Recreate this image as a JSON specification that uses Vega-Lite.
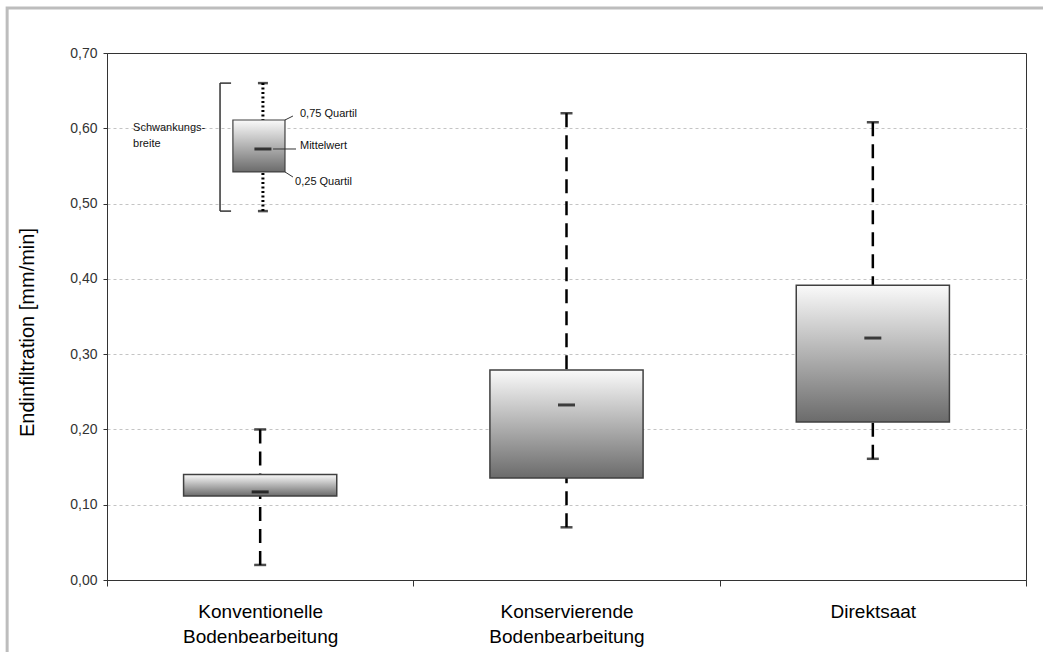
{
  "$schema": "https://vega.github.io/schema/vega-lite/v6.json",
  "width": 919,
  "height": 527,
  "autosize": {"type": "none"},
  "padding": {"left": 107, "top": 53, "right": 17, "bottom": 72},
  "background": "white",
  "config": {
    "font": "Liberation Sans",
    "view": {"stroke": "#333333", "strokeWidth": 1}
  },
  "datasets": {
    "boxes": [
      {"cat": "Konventionelle Bodenbearbeitung", "min": 0.02, "q1": 0.1116, "mean": 0.117, "q3": 0.14, "max": 0.2},
      {"cat": "Konservierende Bodenbearbeitung", "min": 0.07, "q1": 0.1355, "mean": 0.2325, "q3": 0.279, "max": 0.62},
      {"cat": "Direktsaat", "min": 0.161, "q1": 0.21, "mean": 0.3214, "q3": 0.3915, "max": 0.608}
    ],
    "legendbox": [
      {"x": 0.509, "xl": 0.411, "xr": 0.581, "min": 0.49, "q1": 0.542, "mean": 0.5725, "q3": 0.611, "max": 0.66}
    ],
    "bracket": [
      {"x": 0.369, "x2": 0.369, "y": 0.49, "y2": 0.66},
      {"x": 0.369, "x2": 0.405, "y": 0.66, "y2": 0.66},
      {"x": 0.369, "x2": 0.405, "y": 0.49, "y2": 0.49}
    ],
    "connectors": [
      {"x": 0.581, "x2": 0.607, "y": 0.611, "y2": 0.6163},
      {"x": 0.542, "x2": 0.617, "y": 0.5725, "y2": 0.5725},
      {"x": 0.581, "x2": 0.607, "y": 0.542, "y2": 0.5353}
    ],
    "labels": [
      {"x": 0.63, "y": 0.6193, "text": "0,75 Quartil"},
      {"x": 0.63, "y": 0.5765, "text": "Mittelwert"},
      {"x": 0.614, "y": 0.5287, "text": "0,25 Quartil"},
      {"x": 0.085, "y": 0.6004, "text": "Schwankungs-"},
      {"x": 0.085, "y": 0.5791, "text": "breite"}
    ],
    "frame": [
      {"x": -0.326, "x2": 3.3, "y": 0.7598, "y2": -0.2}
    ]
  },
  "layer": [
    {
      "data": {"name": "boxes"},
      "encoding": {
        "x": {
          "field": "cat",
          "type": "nominal",
          "sort": null,
          "scale": {"paddingInner": 0, "paddingOuter": 0},
          "axis": {
            "title": null,
            "labelAngle": 0,
            "labelFontSize": 19,
            "labelColor": "#000000",
            "labelLineHeight": 25,
            "labelPadding": 16,
            "labelExpr": "split(datum.label, ' ')",
            "tickBand": "extent",
            "tickSize": 6,
            "tickColor": "#333333",
            "domainColor": "#333333",
            "grid": false
          }
        }
      },
      "layer": [
        {
          "mark": {"type": "rule", "stroke": "#000000", "strokeWidth": 2.5, "strokeDash": [14, 8]},
          "encoding": {
            "y": {
              "field": "max",
              "type": "quantitative",
              "scale": {"domain": [0, 0.7], "nice": false, "zero": false},
              "axis": {
                "title": "Endinfiltration [mm/min]",
                "titleFontSize": 20,
                "titleFontWeight": "normal",
                "titleColor": "#000000",
                "titlePadding": 32,
                "titleY": 279,
                "values": [0, 0.1, 0.2, 0.3, 0.4, 0.5, 0.6, 0.7],
                "labelExpr": "replace(format(datum.value, '.2f'), '.', ',')",
                "labelFontSize": 14,
                "labelColor": "#333333",
                "labelPadding": 6,
                "tickSize": 4,
                "tickColor": "#333333",
                "domainColor": "#333333",
                "grid": true,
                "gridColor": "#c4c4c4",
                "gridOpacity": {"condition": {"test": "datum.value >= 0.69 || datum.value <= 0.001", "value": 0}, "value": 1},
                "gridDash": [3, 3],
                "gridWidth": 1
              }
            },
            "y2": {"field": "q3"}
          }
        },
        {
          "mark": {"type": "rule", "stroke": "#000000", "strokeWidth": 2.5, "strokeDash": [14, 8]},
          "encoding": {
            "y": {"field": "min", "type": "quantitative"},
            "y2": {"field": "q1"}
          }
        },
        {
          "mark": {"type": "tick", "orient": "horizontal", "color": "#000000", "size": 12, "thickness": 2.5},
          "encoding": {"y": {"field": "max", "type": "quantitative"}}
        },
        {
          "mark": {"type": "tick", "orient": "horizontal", "color": "#000000", "size": 12, "thickness": 2.5},
          "encoding": {"y": {"field": "min", "type": "quantitative"}}
        },
        {
          "mark": {
            "type": "bar",
            "width": {"band": 0.5},
            "stroke": "#404040",
            "strokeWidth": 1.5,
            "fill": {
              "gradient": "linear",
              "x1": 0, "y1": 0, "x2": 0, "y2": 1,
              "stops": [
                {"offset": 0, "color": "#fafafa"},
                {"offset": 1, "color": "#6b6b6b"}
              ]
            }
          },
          "encoding": {
            "y": {"field": "q1", "type": "quantitative"},
            "y2": {"field": "q3"}
          }
        },
        {
          "mark": {"type": "tick", "orient": "horizontal", "color": "#000000", "size": 17, "thickness": 3},
          "encoding": {"y": {"field": "mean", "type": "quantitative"}}
        }
      ]
    },
    {
      "layer": [
        {
          "data": {"name": "frame"},
          "mark": {"type": "rect", "fillOpacity": 0, "stroke": "#bdbdbd", "strokeWidth": 3, "clip": false},
          "encoding": {
            "x": {"field": "x", "type": "quantitative", "scale": {"domain": [0, 3], "nice": false, "zero": false}, "axis": null},
            "x2": {"field": "x2"},
            "y": {"field": "y", "type": "quantitative"},
            "y2": {"field": "y2"}
          }
        },
        {
          "data": {"name": "legendbox"},
          "mark": {"type": "rule", "stroke": "#000000", "strokeWidth": 3, "strokeDash": [2, 2.5]},
          "encoding": {
            "x": {"field": "x", "type": "quantitative", "axis": null},
            "y": {"field": "min", "type": "quantitative"},
            "y2": {"field": "max"}
          }
        },
        {
          "data": {"name": "legendbox"},
          "mark": {"type": "tick", "orient": "horizontal", "color": "#000000", "size": 10, "thickness": 2.5},
          "encoding": {
            "x": {"field": "x", "type": "quantitative", "axis": null},
            "y": {"field": "max", "type": "quantitative"}
          }
        },
        {
          "data": {"name": "legendbox"},
          "mark": {"type": "tick", "orient": "horizontal", "color": "#000000", "size": 10, "thickness": 2.5},
          "encoding": {
            "x": {"field": "x", "type": "quantitative", "axis": null},
            "y": {"field": "min", "type": "quantitative"}
          }
        },
        {
          "data": {"name": "legendbox"},
          "mark": {
            "type": "rect",
            "stroke": "#404040",
            "strokeWidth": 1.2,
            "fill": {
              "gradient": "linear",
              "x1": 0, "y1": 0, "x2": 0, "y2": 1,
              "stops": [
                {"offset": 0, "color": "#fafafa"},
                {"offset": 1, "color": "#6b6b6b"}
              ]
            }
          },
          "encoding": {
            "x": {"field": "xl", "type": "quantitative", "axis": null},
            "x2": {"field": "xr"},
            "y": {"field": "q1", "type": "quantitative"},
            "y2": {"field": "q3"}
          }
        },
        {
          "data": {"name": "legendbox"},
          "mark": {"type": "tick", "orient": "horizontal", "color": "#000000", "size": 17, "thickness": 3},
          "encoding": {
            "x": {"field": "x", "type": "quantitative", "axis": null},
            "y": {"field": "mean", "type": "quantitative"}
          }
        },
        {
          "data": {"name": "bracket"},
          "mark": {"type": "rule", "stroke": "#333333", "strokeWidth": 1.5},
          "encoding": {
            "x": {"field": "x", "type": "quantitative", "axis": null},
            "x2": {"field": "x2"},
            "y": {"field": "y", "type": "quantitative"},
            "y2": {"field": "y2"}
          }
        },
        {
          "data": {"name": "connectors"},
          "mark": {"type": "rule", "stroke": "#333333", "strokeWidth": 1},
          "encoding": {
            "x": {"field": "x", "type": "quantitative", "axis": null},
            "x2": {"field": "x2"},
            "y": {"field": "y", "type": "quantitative"},
            "y2": {"field": "y2"}
          }
        },
        {
          "data": {"name": "labels"},
          "mark": {"type": "text", "align": "left", "baseline": "middle", "fontSize": 11, "color": "#111111"},
          "encoding": {
            "x": {"field": "x", "type": "quantitative", "axis": null},
            "y": {"field": "y", "type": "quantitative"},
            "text": {"field": "text"}
          }
        }
      ]
    }
  ],
  "resolve": {"scale": {"x": "independent"}}
}
